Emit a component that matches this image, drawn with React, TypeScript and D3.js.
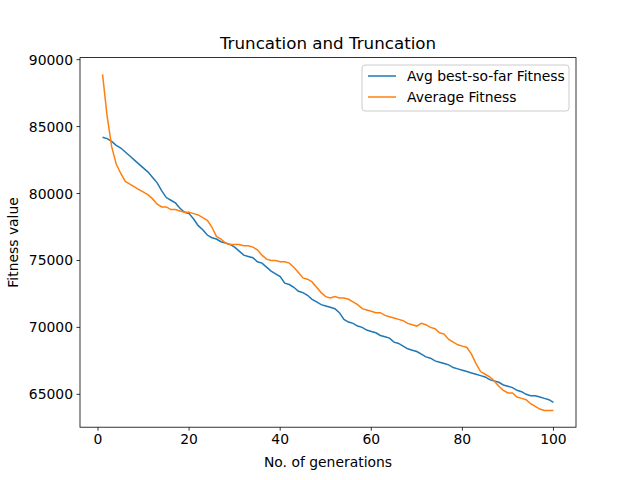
import React from "react";
import * as d3 from "d3";

const generations = d3.range(1, 101);
const bestSoFar = [84200,84100,83900,83600,83400,83100,82800,82500,82200,81900,
81600,81200,80800,80200,79700,79500,79300,78900,78600,78500,
78100,77600,77300,76900,76700,76600,76400,76300,76200,76000,
75700,75400,75300,75200,74900,74800,74500,74200,74000,73800,
73300,73200,73000,72700,72600,72400,72100,71900,71700,71600,
71500,71400,71100,70600,70400,70300,70100,70000,69800,69700,
69600,69400,69300,69200,68900,68800,68600,68400,68300,68200,
68000,67800,67700,67500,67400,67300,67200,67000,66900,66800,
66700,66600,66500,66400,66300,66100,66000,65900,65700,65600,
65500,65300,65200,65000,64900,64900,64800,64700,64600,64400];
const avgFitness = [88900,85800,83500,82200,81500,80900,80700,80500,80300,80100,
79900,79600,79200,79000,79000,78800,78800,78700,78600,78600,
78500,78400,78200,78000,77500,76800,76600,76300,76200,76200,
76200,76100,76100,76000,75800,75400,75100,75000,75000,74900,
74900,74800,74500,74100,73700,73600,73400,73000,72600,72300,
72200,72300,72200,72200,72100,71900,71700,71400,71300,71200,
71100,71100,70900,70800,70700,70600,70500,70300,70200,70100,
70300,70200,70000,69900,69600,69500,69100,68900,68700,68600,
68500,68000,67300,66700,66500,66300,66000,65600,65300,65100,
65100,64800,64700,64600,64300,64100,63900,63800,63800,63800];
const xTicks = [0, 20, 40, 60, 80, 100];
const yTicks = [65000, 70000, 75000, 80000, 85000, 90000];
const seriesNames = ["Avg best-so-far Fitness", "Average Fitness"];
const colors = ["#1f77b4", "#ff7f0e"];

export default function App() {
  const L = 80, R = 576, T = 57.6, B = 427.2;
  const x = d3.scaleLinear().domain([-3.95, 104.95]).range([L, R]);
  const y = d3.scaleLinear().domain([62545, 90155]).range([B, T]);
  const line = (vals: number[]) =>
    d3.line<number>().x((_, i) => x(generations[i])).y((v) => y(v))(vals) || "";
  const font = "DejaVu Sans, sans-serif";
  return (
    <div style={{ position: "fixed", left: 0, top: 0 }}>
      <svg width={640} height={480} style={{ display: "block", background: "#fff" }} fontFamily={font}>
        <path d={line(bestSoFar)} fill="none" stroke={colors[0]} strokeWidth={1.5} />
        <path d={line(avgFitness)} fill="none" stroke={colors[1]} strokeWidth={1.5} />
        <rect x={L} y={T} width={R - L} height={B - T} fill="none" stroke="#000" strokeWidth={0.8} />
        {xTicks.map((t) => (
          <g key={t}>
            <line x1={x(t)} x2={x(t)} y1={B} y2={B + 3.5} stroke="#000" strokeWidth={0.8} />
            <text x={x(t)} y={B + 17} fontSize={13.9} textAnchor="middle">{t}</text>
          </g>
        ))}
        {yTicks.map((t) => (
          <g key={t}>
            <line x1={L - 3.5} x2={L} y1={y(t)} y2={y(t)} stroke="#000" strokeWidth={0.8} />
            <text x={L - 7} y={y(t) + 5} fontSize={13.9} textAnchor="end">{t}</text>
          </g>
        ))}
        <text x={(L + R) / 2} y={467} fontSize={13.9} textAnchor="middle">No. of generations</text>
        <text transform={`translate(18,${(T + B) / 2}) rotate(-90)`} fontSize={13.9} textAnchor="middle">Fitness value</text>
        <text x={(L + R) / 2} y={49} fontSize={16.7} textAnchor="middle">Truncation and Truncation</text>
        <g>
          <rect x={362} y={65} width={207} height={46} rx={3} fill="#fff" fillOpacity={0.8} stroke="#ccc" strokeWidth={1} />
          {seriesNames.map((n, i) => (
            <g key={n}>
              <line x1={368} x2={396} y1={76 + i * 21} y2={76 + i * 21} stroke={colors[i]} strokeWidth={1.5} />
              <text x={407} y={81 + i * 21} fontSize={13.9}>{n}</text>
            </g>
          ))}
        </g>
      </svg>
    </div>
  );
}
